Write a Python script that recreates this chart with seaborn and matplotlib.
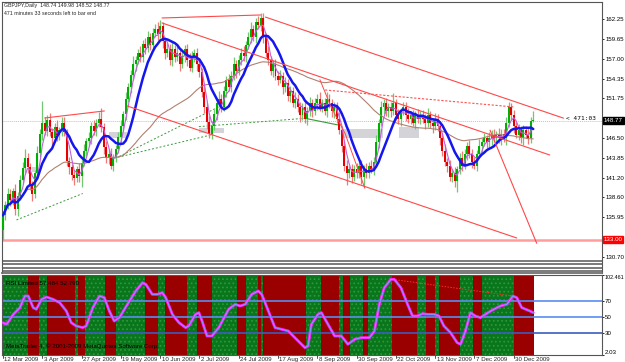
import numpy as np
import pandas as pd
import matplotlib
matplotlib.use("Agg")
import matplotlib.pyplot as plt
import matplotlib.transforms as mtrans
import seaborn as sns

# ---------------- data ----------------
first_open = 134.2
close = [
    136.2, 137.6, 139.0, 138.2, 139.4, 137.0, 138.8, 140.9, 142.5, 143.8,
    142.6, 140.2, 139.0, 141.8, 144.5, 147.0, 148.4, 147.4, 148.8, 147.3,
    146.4, 147.9, 146.8, 147.5, 148.5, 147.2, 143.4, 142.6, 141.5, 141.2,
    142.3, 141.4, 143.2, 144.8, 146.0, 146.5, 148.0, 147.4, 148.5, 149.0,
    147.9, 145.3, 143.8, 144.4, 142.8, 143.9, 145.0, 146.6, 148.0, 149.6,
    151.7, 153.2, 154.8, 156.3, 156.8, 157.8, 157.2, 158.9, 158.4, 159.9,
    158.8, 160.4, 160.9, 160.3, 161.3, 159.3, 157.7, 158.3, 156.8, 158.3,
    157.2, 157.8, 156.3, 157.3, 158.3, 156.8, 155.8, 157.3, 157.8, 156.3,
    155.2, 152.6, 150.6, 148.6, 147.0, 148.1, 149.6, 151.1, 151.7, 150.6,
    152.7, 154.2, 153.2, 154.7, 156.3, 155.3, 156.8, 157.8, 157.3, 158.8,
    159.8, 160.9, 159.9, 161.9, 161.4, 162.4, 159.9, 157.8, 156.8, 155.3,
    156.3, 154.7, 154.2, 154.7, 153.2, 153.7, 152.1, 152.7, 151.1, 151.7,
    150.6, 149.5, 150.6, 149.0, 150.0, 151.1, 150.0, 151.1, 151.7, 150.6,
    151.1, 150.0, 151.7, 151.1, 150.0, 150.6, 149.0, 147.5, 145.4, 142.8,
    141.8, 142.3, 141.3, 142.3, 141.8, 142.8, 141.3, 142.3, 141.8, 142.8,
    142.3, 143.3, 145.9, 148.5, 150.6, 151.1, 150.0, 150.6, 150.0, 151.1,
    149.5, 149.0, 150.0, 150.6, 149.5, 149.0, 149.5, 148.5, 149.5, 149.0,
    149.5, 149.0, 148.5, 149.5, 148.5, 148.0, 149.0, 148.0, 146.4, 144.8,
    143.3, 142.8, 141.3, 141.8, 140.8, 142.3, 143.8, 142.8, 144.4, 145.4,
    144.4, 143.3, 142.8, 144.4, 145.4, 145.9, 146.4, 145.9, 146.4, 146.9,
    146.4, 146.9, 146.4, 147.0, 146.4, 148.5, 150.6, 149.5, 148.0, 146.9,
    147.5, 146.4, 147.5, 146.9, 146.4, 148.74, 148.77,
]
up_wick = [
    0.6, 0.5, 0.8, 0.7, 0.4, 0.9, 0.5, 0.6, 0.8, 1.2,
    0.7, 0.5, 0.6, 0.4, 0.9, 0.6, 3.0, 0.8, 0.7, 1.0,
    0.5, 0.6, 0.9, 0.4, 0.7, 0.8, 0.5, 0.6, 0.4, 0.7,
    0.5, 0.8, 0.6, 0.9, 0.5, 0.7, 0.6, 0.8, 0.5, 0.9,
    1.5, 0.6, 0.7, 0.5, 0.8, 0.4, 0.6, 0.7, 0.9, 0.5,
    0.8, 0.6, 0.7, 1.0, 0.6, 0.5, 0.9, 0.6, 0.8, 0.7,
    0.5, 0.6, 0.7, 0.9, 0.8, 0.6, 0.5, 0.7, 0.6, 0.9,
    0.5, 0.8, 0.6, 0.7, 0.5, 0.6, 0.9, 0.7, 0.5, 0.6,
    0.7, 0.6, 0.9, 0.5, 0.8, 0.6, 0.7, 0.5, 1.0, 0.6,
    0.7, 0.5, 0.8, 0.6, 0.9, 0.5, 0.7, 0.6, 0.8, 0.5,
    0.7, 0.9, 0.6, 0.5, 0.8, 0.6, 0.7, 0.5, 0.9, 0.6,
    0.5, 0.7, 0.6, 0.8, 0.5, 0.9, 0.6, 0.7, 0.5, 0.8,
    0.6, 0.7, 0.5, 0.9, 0.6, 0.8, 0.5, 0.7, 0.6, 0.9,
    0.5, 0.7, 0.8, 0.6, 0.5, 0.7, 0.6, 0.9, 0.5, 0.6,
    0.8, 0.5, 0.7, 0.6, 0.9, 0.5, 0.7, 0.6, 0.8, 0.5,
    0.7, 0.6, 0.9, 0.5, 0.8, 0.6, 0.7, 0.5, 0.6, 1.3,
    0.6, 0.8, 0.5, 0.7, 0.6, 0.9, 0.5, 0.7, 0.6, 0.8,
    0.5, 0.7, 0.6, 0.9, 0.5, 0.6, 0.8, 0.7, 0.5, 0.6,
    0.9, 0.5, 0.7, 0.6, 0.8, 0.5, 0.7, 0.9, 0.6, 0.5,
    0.8, 0.6, 0.7, 0.5, 0.9, 0.6, 0.7, 0.5, 0.8, 0.6,
    0.7, 0.5, 0.9, 0.6, 0.7, 0.8, 0.6, 0.5, 0.7, 0.6,
    0.8, 0.5, 0.7, 0.6, 0.9, 0.5, 1.21,
]
dn_wick = [
    1.2, 0.6, 0.5, 0.8, 0.6, 0.7, 0.9, 0.5, 0.6, 0.7,
    0.8, 0.6, 0.9, 0.5, 0.7, 0.6, 0.8, 0.5, 0.7, 0.6,
    0.9, 0.5, 0.7, 0.6, 0.8, 0.5, 0.7, 0.9, 0.6, 1.0,
    0.6, 0.8, 1.4, 0.5, 0.7, 0.6, 0.8, 0.5, 0.7, 0.6,
    0.7, 0.9, 0.6, 0.8, 0.5, 0.7, 0.6, 0.5, 0.8, 0.6,
    0.7, 0.5, 0.8, 0.6, 0.9, 0.5, 0.7, 0.6, 0.8, 0.5,
    0.6, 0.7, 0.5, 0.8, 0.6, 0.9, 0.7, 0.5, 0.6, 0.8,
    0.7, 0.5, 0.9, 0.6, 0.7, 0.8, 0.5, 0.6, 0.7, 0.9,
    0.6, 0.7, 0.8, 0.9, 0.5, 0.7, 0.6, 0.8, 0.5, 0.7,
    0.6, 0.8, 0.5, 0.7, 0.6, 0.9, 0.5, 0.7, 0.6, 0.8,
    0.5, 0.7, 0.6, 0.8, 0.5, 0.7, 0.9, 0.6, 0.7, 0.5,
    0.8, 0.6, 0.7, 0.5, 0.9, 0.6, 0.7, 0.8, 0.5, 0.6,
    0.7, 0.9, 0.6, 0.5, 0.8, 0.6, 0.7, 0.5, 0.9, 0.6,
    0.7, 0.5, 0.8, 0.6, 0.7, 0.9, 0.6, 0.5, 0.8, 0.7,
    1.6, 0.6, 0.8, 0.5, 0.7, 0.6, 0.9, 1.4, 0.6, 0.7,
    0.5, 0.8, 0.6, 0.7, 0.5, 0.9, 0.6, 0.7, 0.8, 0.5,
    0.6, 0.7, 0.9, 0.5, 0.8, 0.6, 0.7, 0.5, 0.9, 0.6,
    0.7, 0.5, 0.8, 0.6, 0.7, 0.9, 0.5, 0.6, 0.8, 0.7,
    0.6, 0.9, 0.5, 0.7, 0.8, 1.5, 0.6, 0.7, 0.5, 0.9,
    0.6, 0.8, 0.5, 0.7, 0.6, 0.9, 0.5, 0.7, 0.6, 0.8,
    0.5, 0.7, 0.6, 0.9, 0.5, 0.8, 0.6, 0.7, 0.9, 0.5,
    0.7, 0.6, 0.8, 0.5, 0.7, 0.6, 0.22,
]

date_labels = ["12 Mar 2009", "3 Apr 2009", "27 Apr 2009", "19 May 2009", "10 Jun 2009",
               "2 Jul 2009", "24 Jul 2009", "17 Aug 2009", "8 Sep 2009", "30 Sep 2009",
               "22 Oct 2009", "13 Nov 2009", "7 Dec 2009", "30 Dec 2009"]
date_pos = [0, 16, 32, 48, 64, 80, 96, 112, 128, 144, 160, 176, 192, 208]

price_ticks = [162.25, 159.65, 157.00, 154.35, 151.75, 146.50, 143.85, 141.20, 138.60, 135.95, 130.70]
last_price = 148.77
level_price = 133.00
sep_levels = [130.16, 129.76, 129.23, 128.83]

# trend lines (bar index, price)
red_lines = [
    (64.8, 162.38, 104.9, 162.78),
    (106.9, 162.5, 228.3, 149.1),
    (64.8, 161.72, 222.7, 144.21),
    (50.6, 150.71, 209.3, 133.2),
    (17.0, 149.12, 41.3, 150.05),
    (198.4, 147.5, 217.4, 132.5),
]
red_zigzag_x = [129.1, 133.6, 139.3, 147.4]
red_zigzag_p = [154.2, 150.6, 147.1, 139.8]
red_dotted = (131.2, 152.83, 208.1, 150.58)
green_dashed = [
    (5.5, 135.6, 32.5, 139.1),
    (45.3, 143.8, 85.1, 146.9),
    (44.5, 143.55, 87.9, 150.6),
    (79.8, 147.97, 123.0, 149.08),
]
green_solid = (123.0, 149.08, 136.4, 148.2)
gray_boxes = [  # x0, x1, p_low, p_high
    (11.7, 13.8, 141.96, 142.6),
    (43.3, 50.6, 146.47, 147.26),
    (79.8, 89.9, 147.1, 147.8),
    (137.7, 154.7, 146.47, 147.66),
    (161.5, 169.6, 146.47, 147.93),
]

# RSI panel
rsi_idx = [0, 1.5, 4.2, 6.9, 8.9, 10.3, 12.3, 13.6, 15.7, 17.7, 20.4, 23.1, 25.8, 27.8, 29.8,
           32.5, 33.9, 36.6, 39.3, 41.3, 43.3, 45.3, 47.4, 50.7, 54.1, 56.8, 58.2, 60.8, 62.9,
           64.9, 66.3, 69.0, 71.7, 74.4, 75.7, 78.4, 79.8, 81.1, 83.1, 85.1, 87.9, 91.9, 94.6,
           96.6, 98.7, 101.3, 104.0, 105.4, 108.1, 110.8, 113.5, 116.2, 118.9, 123.0, 124.3,
           125.6, 128.3, 129.7, 132.4, 135.1, 137.8, 140.5, 143.2, 145.9, 149.3, 151.3, 153.3,
           155.3, 158.0, 159.4, 162.1, 164.8, 166.8, 168.8, 170.9, 172.9, 175.6, 177.6, 179.6,
           182.3, 185.0, 186.4, 188.4, 190.4, 192.4, 194.5, 196.5, 199.2, 202.6, 205.3, 207.7,
           209.3, 211.3, 214.6, 216.0]
rsi_val = [42.6, 40.5, 53.1, 61.5, 76.1, 76.1, 61.5, 59.4, 71.9, 74.9, 71.9, 67.7, 57.3, 42.6, 38.5,
           36.4, 38.5, 61.5, 76.1, 74.0, 57.3, 44.7, 48.9, 65.7, 82.4, 92.8, 90.7, 78.2, 78.2,
           80.3, 74.0, 53.1, 42.6, 36.4, 38.5, 53.1, 55.2, 44.7, 25.9, 25.9, 36.4, 59.4, 65.7,
           63.6, 65.7, 78.2, 82.4, 78.2, 57.3, 36.4, 34.3, 32.2, 23.8, 11.2, 13.4,
           40.5, 53.1, 55.2, 40.5, 25.9, 25.9, 15.5, 21.7, 23.8, 23.8, 32.2, 65.7,
           86.5, 97.0, 97.0, 86.5, 65.7, 51.0, 51.0, 53.9, 53.1, 53.1, 51.0, 38.5,
           30.1, 17.5, 15.5, 32.2, 55.2, 51.0, 48.9, 53.1, 58.2, 63.6, 65.7, 76.1,
           74.0, 61.5, 57.3, 55.2]
rsi_levels = [70, 50, 30]
rsi_dotted = (158.7, 97.0, 207.7, 76.1)
band_edges = [-0.5, 10, 14.5, 18, 29.5, 30.5, 33.5, 41.5, 46, 58, 63, 66, 75, 79, 85, 95.5, 99,
              104, 105, 106, 123.5, 129.5, 137, 138.5, 141.5, 146.5, 148.5, 158.5, 168.5, 172.5,
              176, 177.5, 186, 191.5, 195, 208, 216.5]

# ---------------- figure ----------------
sns.set_theme(style="white")
plt.rcParams["font.family"] = ["Liberation Sans", "DejaVu Sans"]
plt.rcParams["hatch.linewidth"] = 0.7

FS = 4.4
W, H = 625, 362
fig = plt.figure(figsize=(W / 100, H / 100), dpi=100)
ax = fig.add_axes([2 / W, 1 - 273 / H, 600 / W, 271 / H])
axr = fig.add_axes([2 / W, 1 - 355 / H, 600 / W, 80 / H])

XMIN, XMAX = -0.4, 244.0
n = len(close)
idx = np.arange(n)
df = pd.DataFrame({"i": idx, "close": close})
df["open"] = [first_open] + close[:-1]
df["high"] = df[["open", "close"]].max(axis=1) + np.array(up_wick)
df["low"] = df[["open", "close"]].min(axis=1) - np.array(dn_wick)
df["ma_fast"] = df["close"].rolling(4, min_periods=1).mean()
df["ma_blue"] = df["close"].rolling(10, min_periods=1).mean()
df["ma_slow"] = df["close"].rolling(50, min_periods=1).mean()

bull = df["close"] >= df["open"]
body_col = np.where(bull, "#00b000", "#e80000")
wick_col = np.where(bull, "#70c870", "#f07a7a")

# reference lines
ax.axhline(level_price, color="#ff9d9d", lw=1.8, zorder=1)
ax.axhline(last_price, color="#d8b8b8", lw=0.7, ls=(0, (1, 1)), zorder=1)
for lv in sep_levels:
    ax.axhline(lv, color="#6f6f6f", lw=1.3, zorder=1)

for (x0, x1, p0, p1) in gray_boxes:
    ax.add_patch(plt.Rectangle((x0, p0), x1 - x0, p1 - p0, facecolor="#d4d4d8", edgecolor="none", zorder=1))

for (x0, p0, x1, p1) in green_dashed:
    ax.plot([x0, x1], [p0, p1], color="#3a9a3a", lw=0.7, ls=(0, (2, 2)), zorder=2)
ax.plot([green_solid[0], green_solid[2]], [green_solid[1], green_solid[3]], color="#3a9a3a", lw=0.8, zorder=2)

# candles
ax.vlines(df["i"], df["low"], df["high"], colors=wick_col, lw=0.9, zorder=3)
body_h = np.maximum((df["close"] - df["open"]).abs(), 0.12)
ax.bar(df["i"], body_h, bottom=df[["open", "close"]].min(axis=1), width=0.8,
       color=body_col, linewidth=0, zorder=4)

# moving averages
sns.lineplot(data=df, x="i", y="ma_slow", ax=ax, color="#b08070", lw=0.8, zorder=5, legend=False)
sns.lineplot(data=df, x="i", y="ma_fast", ax=ax, color="#c060e0", lw=0.8, zorder=5, legend=False)
sns.lineplot(data=df, x="i", y="ma_blue", ax=ax, color="#1515f0", lw=1.8, zorder=6, legend=False)

for (x0, p0, x1, p1) in red_lines:
    ax.plot([x0, x1], [p0, p1], color="#ff4848", lw=0.8, zorder=7)
ax.plot(red_zigzag_x, red_zigzag_p, color="#ff4848", lw=0.7, zorder=7)
ax.plot([red_dotted[0], red_dotted[2]], [red_dotted[1], red_dotted[3]], color="#ff5050", lw=0.8,
        ls=(0, (2, 1.5)), zorder=7)

ax.set_xlim(XMIN, XMAX)
ax.set_ylim(128.56, 164.50)
ax.set_xlabel("")
ax.set_ylabel("")
ax.set_xticks([])
ax.yaxis.tick_right()
ax.set_yticks(price_ticks)
ax.set_yticklabels([f"{p:.2f}" for p in price_ticks])
ax.tick_params(axis="y", which="both", right=True, length=1.5, width=0.6, pad=0.8,
               labelsize=FS, colors="#000000")
for s in ["left", "right", "top"]:
    ax.spines[s].set_color("#555555")
    ax.spines[s].set_linewidth(0.8)
ax.spines["bottom"].set_color("#6f6f6f")
ax.spines["bottom"].set_linewidth(1.3)

ytr = mtrans.blended_transform_factory(ax.transAxes, ax.transData)
ax.text(1.003, last_price, "148.77", transform=ytr, fontsize=FS, color="white", va="center", ha="left",
        bbox=dict(boxstyle="square,pad=0.12", fc="black", ec="black"), clip_on=False)
ax.text(1.003, level_price, "133.00", transform=ytr, fontsize=FS, color="white", va="center", ha="left",
        bbox=dict(boxstyle="square,pad=0.12", fc="#ff0000", ec="#ff0000"), clip_on=False)
ax.text(229.5, 149.1, "< 471:03", fontsize=FS, color="black", va="center", ha="left",
        family=["DejaVu Sans Mono", "DejaVu Sans"])

fig.text(4 / W, 1 - 6 / H, "GBPJPY,Daily  148.74 149.98 148.52 148.77", fontsize=3.8, va="center", ha="left")
fig.text(4 / W, 1 - 13.5 / H, "471 minutes 33 seconds left to bar end", fontsize=3.8, va="center", ha="left")

# ---------------- RSI panel ----------------
for k in range(len(band_edges) - 1):
    a, b = band_edges[k], band_edges[k + 1]
    if k % 2 == 0:
        axr.axvspan(a, b, facecolor="#0a761c", edgecolor="#2c9a3c", hatch="....", lw=0, zorder=0)
    else:
        axr.axvspan(a, b, facecolor="#9a0000", edgecolor="none", lw=0, zorder=0)

lvl_cols = ["#5a8cf0", "#5a8cf0", "#3a5cc0"]
for lv, lc in zip(rsi_levels, lvl_cols):
    axr.axhline(lv, color=lc, lw=1.2, zorder=1)

axr.plot([rsi_dotted[0], rsi_dotted[2]], [rsi_dotted[1], rsi_dotted[3]], color="#ff3030", lw=0.7,
         ls=(0, (1.5, 1.5)), zorder=2)
sns.lineplot(x=rsi_idx, y=rsi_val, ax=axr, color="#ff20ff", lw=2.0, zorder=3)
sns.lineplot(x=rsi_idx, y=rsi_val, ax=axr, color="#60b0ff", lw=0.6, zorder=4)

axr.set_xlim(XMIN, XMAX)
axr.set_ylim(2.03, 102.461)
axr.set_xlabel("")
axr.set_ylabel("")
axr.set_xticks([])
axr.yaxis.tick_right()
axr.set_yticks([102.461] + rsi_levels + [2.03])
axr.set_yticklabels(["102.461", "70", "50", "30", "2.03"])
axr.tick_params(axis="y", right=True, length=1.5, width=0.6, pad=0.5, labelsize=FS, colors="#000000")
for lab in axr.get_yticklabels():
    t = lab.get_text()
    if t == "102.461":
        lab.set_va("top")
        lab.set_fontsize(3.9)
    elif t == "2.03":
        lab.set_va("bottom")
for s in axr.spines.values():
    s.set_color("#555555")
    s.set_linewidth(0.8)

axr.text(0.006, 0.93, "RSI Limited 57.484 52.790", transform=axr.transAxes, fontsize=FS, va="top",
         ha="left", color="black")
axr.text(0.006, 0.07, "MetaTrader 4, \u00a9 2001-2009 MetaQuotes Software Corp.", transform=axr.transAxes,
         fontsize=FS, va="bottom", ha="left", color="black")

xtr = mtrans.blended_transform_factory(axr.transData, axr.transAxes)
for p, lab in zip(date_pos, date_labels):
    axr.plot([p, p], [0, -0.035], transform=xtr, color="#333333", lw=0.6, clip_on=False)
    axr.text(p + 0.6, -0.03, lab, transform=xtr, fontsize=FS, va="top", ha="left", clip_on=False)

fig.savefig("out.png", dpi=100, facecolor="white")
